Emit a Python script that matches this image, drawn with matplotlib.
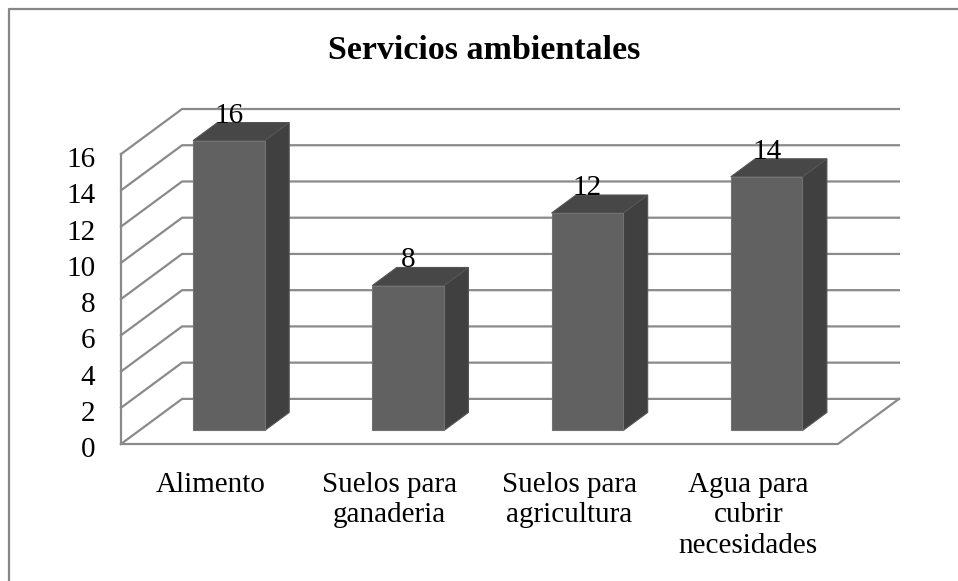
import matplotlib
matplotlib.use("Agg")
from matplotlib import pyplot as plt
from matplotlib.patches import Polygon
from matplotlib.lines import Line2D
from matplotlib.transforms import ScaledTranslation

categorias = ["Alimento", "Suelos para\nganaderia", "Suelos para\nagricultura",
              "Agua para\ncubrir\nnecesidades"]
valores = [16, 8, 12, 14]
titulo = "Servicios ambientales"
y_ticks = list(range(0, 17, 2))

plt.rcParams['font.family'] = ['Liberation Serif', 'DejaVu Serif']

# proyeccion oblicua: profundidad d (0 = frente, 1 = fondo)
DX = 0.3408
DY = 2.49
def proj(x, y, d):
    return x + d * DX, y + d * DY

fig = plt.figure(figsize=(9.58, 5.81), dpi=100)
ax = fig.add_axes([121 / 958, 1 - 444 / 581, (899 - 121) / 958, (444 - 109) / 581])
n = len(valores)
ax.set_xlim(0, n + DX)
ax.set_ylim(0, y_ticks[-1] + DY)
for s in ax.spines.values():
    s.set_visible(False)

# paredes y lineas de division
gris = '#8a8a8a'
for v in y_ticks:
    x0, y0 = proj(0, v, 0)
    x1, y1 = proj(0, v, 1)
    x2, y2 = proj(n, v, 1)
    ax.plot([x0, x1, x2], [y0, y1, y2], color=gris, lw=1.6, zorder=1, clip_on=False)
ax.plot([0, 0], [0, y_ticks[-1]], color=gris, lw=1.6, zorder=1, clip_on=False)
fx, fy = proj(n, 0, 1)
ax.plot([0, n, fx], [0, 0, fy], color=gris, lw=1.6, zorder=1, clip_on=False)

# barras 3D
w = 0.40
d0, d1 = 0.3, 0.7
for i, v in enumerate(valores):
    xl = i + 0.5 - w / 2
    xr = i + 0.5 + w / 2
    frente = [proj(xl, 0, d0), proj(xr, 0, d0), proj(xr, v, d0), proj(xl, v, d0)]
    lado = [proj(xr, 0, d0), proj(xr, 0, d1), proj(xr, v, d1), proj(xr, v, d0)]
    tapa = [proj(xl, v, d0), proj(xr, v, d0), proj(xr, v, d1), proj(xl, v, d1)]
    ax.add_patch(Polygon(lado, closed=True, facecolor='#404040', edgecolor='#555555', lw=0.8, zorder=3))
    ax.add_patch(Polygon(tapa, closed=True, facecolor='#474747', edgecolor='#555555', lw=0.8, zorder=3))
    ax.add_patch(Polygon(frente, closed=True, facecolor='#616161', edgecolor='#727272', lw=0.8, zorder=4))
    ty = proj(i + 0.5, v, d1)[1]
    tx = proj(i + 0.5, v, d0)[0]
    ax.text(tx, ty, str(v), ha='center', va='baseline', fontsize=21, color='black', zorder=5)

ax.set_yticks(y_ticks)
ax.set_yticklabels([str(t) for t in y_ticks])
ax.set_xticks([i + 0.5 for i in range(n)])
ax.set_xticklabels(categorias, linespacing=1.22)
ax.tick_params(axis='y', length=0, pad=18.5, labelsize=21)
ax.tick_params(axis='x', length=0, pad=20, labelsize=21)
# bajar un poco las etiquetas del eje y
bajar = ScaledTranslation(0, -3 / 100, fig.dpi_scale_trans)
for lbl in ax.get_yticklabels():
    lbl.set_transform(lbl.get_transform() + bajar)

fig.text(484 / 958, 1 - 59 / 581, titulo, ha='center', va='baseline',
         fontsize=24.5, fontweight='bold')

# marco del grafico
fig.add_artist(Line2D([9 / 958, 9 / 958, 1], [0, 1 - 9 / 581, 1 - 9 / 581],
                      transform=fig.transFigure, color='#868686', lw=1.6))

fig.savefig("out.png", dpi=100)
